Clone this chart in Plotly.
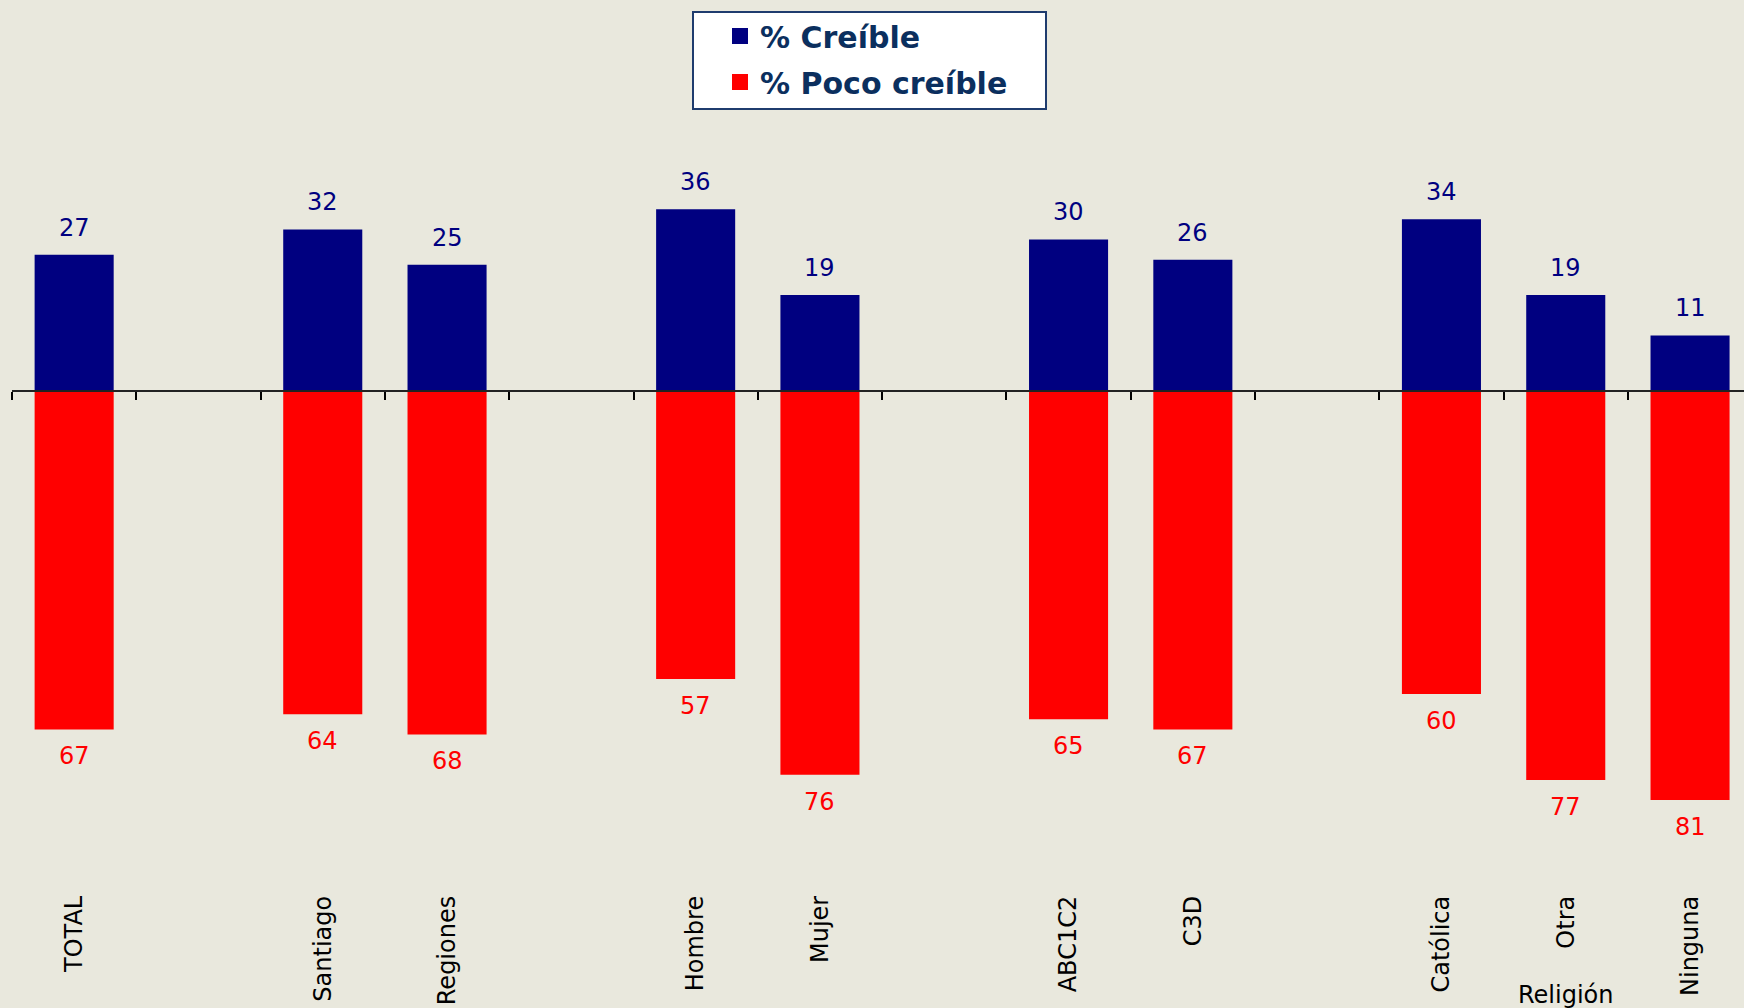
import plotly.graph_objects as go

categories = ['TOTAL', '', 'Santiago', 'Regiones', '', 'Hombre', 'Mujer', '',
              'ABC1C2', 'C3D', '', 'Católica', 'Otra', 'Ninguna']
creible = [27, None, 32, 25, None, 36, 19, None, 30, 26, None, 34, 19, 11]
poco_creible = [67, None, 64, 68, None, 57, 76, None, 65, 67, None, 60, 77, 81]

NAVY = '#000080'
RED = '#FF0000'
BG = '#E9E8DD'
FONT = 'DejaVu Sans'

x = list(range(len(categories)))
ymin, ymax = -98.8, 49.7

fig = go.Figure()

fig.add_trace(go.Bar(x=x, y=creible, marker=dict(color=NAVY, line=dict(width=0)),
                     width=0.636, showlegend=False, name='% Creíble'))
fig.add_trace(go.Bar(x=x, y=[-v if v is not None else None for v in poco_creible],
                     marker=dict(color=RED, line=dict(width=0)),
                     width=0.636, showlegend=False, name='% Poco creíble'))

# legend entries
fig.add_trace(go.Scatter(x=[None], y=[None], mode='markers', name='% Creíble',
                         legendgroup='a',
                         marker=dict(symbol='square', size=22, color=NAVY)))
fig.add_trace(go.Scatter(x=[None], y=[None], mode='markers', name='% Poco creíble',
                         legendgroup='b',
                         marker=dict(symbol='square', size=22, color=RED)))

for i, v in enumerate(creible):
    if v is not None:
        fig.add_annotation(x=i, y=v, text=str(v), showarrow=False, yshift=27,
                           font=dict(family=FONT, size=24, color=NAVY))
for i, v in enumerate(poco_creible):
    if v is not None:
        fig.add_annotation(x=i, y=-v, text=str(v), showarrow=False, yshift=-27,
                           font=dict(family=FONT, size=24, color=RED))

fig.add_annotation(x=12, y=-0.1187, yref='paper', yanchor='top', text='Religión',
                   showarrow=False, font=dict(family=FONT, size=24, color='black'))

# legend box (pixel -> paper)
W, L, B, T = 1744, 12, 118, 140
pw, ph = W - L, 1008 - B - T
def px_x(p):
    return (p - L) / pw
def px_y(p):
    return (1008 - B - p) / ph

fig.add_shape(type='rect', xref='paper', yref='paper',
              x0=px_x(693), x1=px_x(1046), y0=px_y(12), y1=px_y(109),
              fillcolor='white', line=dict(color='#1F3C6E', width=2), layer='above')

tick_idx = [i for i, c in enumerate(categories) if c]

fig.update_layout(
    width=1744, height=1008,
    template='none',
    paper_bgcolor=BG, plot_bgcolor=BG,
    margin=dict(l=L, r=0, t=T, b=B, autoexpand=False),
    barmode='relative',
    font=dict(family=FONT),
    xaxis=dict(range=[-0.5, -0.5 + pw / 124.3], tickvals=tick_idx,
               ticktext=[categories[i] for i in tick_idx], tickangle=-90,
               tickfont=dict(family=FONT, size=24, color='black'),
               showline=False, showgrid=False, zeroline=False, ticks='',
               automargin=False),
    xaxis2=dict(overlaying='x', matches='x', anchor='free',
                position=(0 - ymin) / (ymax - ymin),
                tickvals=[k - 0.5 for k in range(len(categories) + 1)],
                showticklabels=False, ticks='outside', ticklen=8, tickwidth=2,
                tickcolor='black', showline=True, linecolor='#222222', linewidth=2,
                showgrid=False, zeroline=False, automargin=False),
    yaxis=dict(range=[ymin, ymax], visible=False, showgrid=False, zeroline=False,
               automargin=False),
    legend=dict(xref='container', yref='container', x=720 / W, y=1 - 10 / 1008,
                xanchor='left', yanchor='top', bgcolor='rgba(0,0,0,0)',
                borderwidth=0, itemsizing='trace', tracegroupgap=4,
                font=dict(family=FONT, size=30, color='#0B2F5E', weight='bold')),
)

# dummy trace on xaxis2 so the axis is drawn
fig.add_trace(go.Scatter(x=[None], y=[None], xaxis='x2', showlegend=False))

fig.write_html('out.html', config={'displayModeBar': False},
               post_script="document.body.style.margin='0';")
